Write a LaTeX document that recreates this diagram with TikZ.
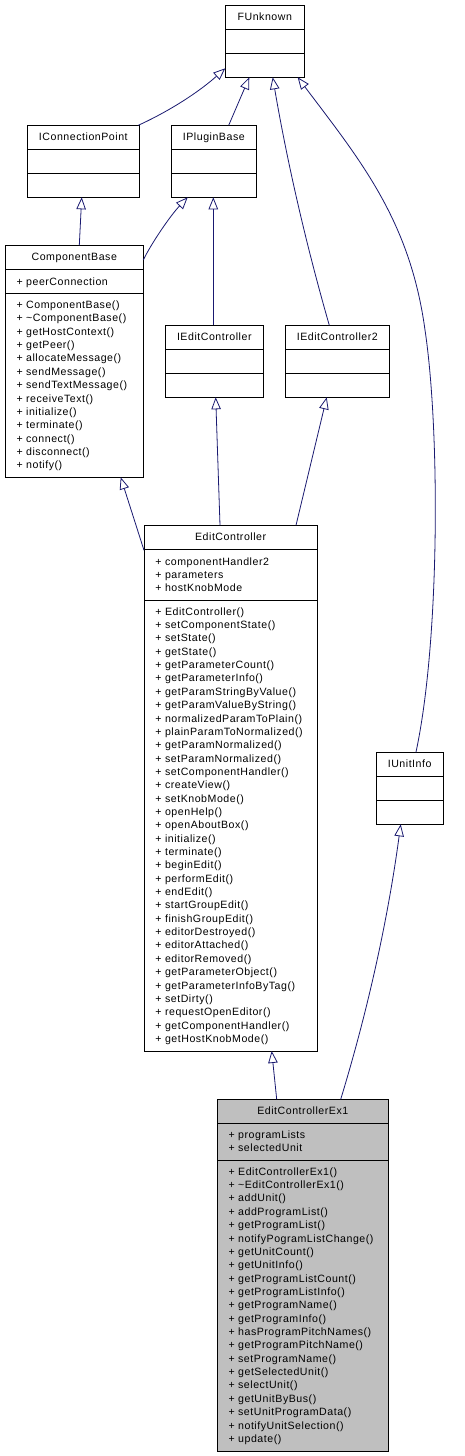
\documentclass[tikz,border=0pt]{standalone}
\usepackage{fontspec}
\setmainfont{Liberation Sans}[LetterSpace=5]
\usetikzlibrary{arrows.meta}
\definecolor{edgeblue}{HTML}{191970}
\definecolor{boxgray}{HTML}{BFBFBF}
\tikzset{
  classbox/.style={draw=black, line width=0.9pt, inner sep=0pt, outer sep=0pt, rectangle},
  sepline/.style={draw=black, line width=0.9pt},
  titletext/.style={anchor=base, inner sep=0pt, font=\fontsize{10.6}{12}\selectfont},
  member/.style={anchor=base west, inner sep=0pt, font=\fontsize{10.6}{12}\selectfont},
  inh/.style={draw=edgeblue, line width=0.8pt, -{Triangle[length=12pt, width=9.5pt, fill=white]}}
}
% #1 name, #2 left, #3 top, #4 width, #5 height, #6 sep1, #7 sep2, #8 fill, #9 title
\newcommand\umlclass[9]{%
  \node[classbox, fill=#8, minimum width=#4pt, minimum height=#5pt, anchor=north west] (#1) at (#2,#3) {};
  \draw[sepline] ([yshift=-#6pt]#1.north west) -- ([yshift=-#6pt]#1.north east);
  \draw[sepline] ([yshift=-#7pt]#1.north west) -- ([yshift=-#7pt]#1.north east);
  \node[titletext] (#1-title) at ([yshift=-15.5pt]#1.north) {#9};
}
\begin{document}
\begin{tikzpicture}[x=1pt, y=-1pt]
\path[use as bounding box, fill=white] (0,0) rectangle (464,1456);

% classes
\umlclass{fu}{225.3}{5.3}{79}{72}{24}{48}{white}{FUnknown}
\umlclass{icp}{27.3}{125.3}{112}{72}{24}{48}{white}{IConnectionPoint}
\umlclass{ipb}{171.3}{125.3}{85}{72}{24}{48}{white}{IPluginBase}
\umlclass{cb}{5.3}{245.3}{138}{232}{24}{48}{white}{ComponentBase}
\umlclass{iec}{165.3}{325.3}{98}{72}{24}{48}{white}{IEditController}
\umlclass{iec2}{285.3}{325.3}{104}{72}{24}{48}{white}{IEditController2}
\umlclass{ec}{144}{525.3}{173.3}{525.7}{24}{75}{white}{EditController}
\umlclass{iu}{376}{752.3}{67.3}{72}{24}{48}{white}{IUnitInfo}
\umlclass{ecx}{217.3}{1099.3}{171}{351.7}{24}{61}{boxgray}{EditControllerEx1}

% ComponentBase members
\node[member] (cba0) at (16.3,285) {+ peerConnection};
\foreach \t [count=\i from 0] in {ComponentBase(), \textasciitilde ComponentBase(), getHostContext(), getPeer(), allocateMessage(), sendMessage(), sendTextMessage(), receiveText(), initialize(), terminate(), connect(), disconnect(), notify()}
  \node[member] (cbm\i) at (16.3,{308.5+\i*13.36}) {+ \t};

% EditController members
\foreach \t [count=\i from 0] in {componentHandler2, parameters, hostKnobMode}
  \node[member] (eca\i) at (155.2,{565+\i*13.35}) {+ \t};
\foreach \t [count=\i from 0] in {EditController(), setComponentState(), setState(), getState(), getParameterCount(), getParameterInfo(), getParamStringByValue(), getParamValueByString(), normalizedParamToPlain(), plainParamToNormalized(), getParamNormalized(), setParamNormalized(), setComponentHandler(), createView(), setKnobMode(), openHelp(), openAboutBox(), initialize(), terminate(), beginEdit(), performEdit(), endEdit(), startGroupEdit(), finishGroupEdit(), editorDestroyed(), editorAttached(), editorRemoved(), getParameterObject(), getParameterInfoByTag(), setDirty(), requestOpenEditor(), getComponentHandler(), getHostKnobMode()}
  \node[member] (ecm\i) at (155.2,{615.2+\i*13.35}) {+ \t};

% EditControllerEx1 members
\foreach \t [count=\i from 0] in {programLists, selectedUnit}
  \node[member] (ecxa\i) at (228.3,{1138.5+\i*13.35}) {+ \t};
\foreach \t [count=\i from 0] in {EditControllerEx1(), \textasciitilde EditControllerEx1(), addUnit(), addProgramList(), getProgramList(), notifyPogramListChange(), getUnitCount(), getUnitInfo(), getProgramListCount(), getProgramListInfo(), getProgramName(), getProgramInfo(), hasProgramPitchNames(), getProgramPitchName(), setProgramName(), getSelectedUnit(), selectUnit(), getUnitByBus(), setUnitProgramData(), notifyUnitSelection(), update()}
  \node[member] (ecxm\i) at (228.3,{1175.2+\i*13.36}) {+ \t};

% inheritance connectors
\draw[inh] ([xshift=-1pt]icp.north east) .. controls (170.2,110.7) and (199.2,91.7) .. ([yshift=9pt]fu.south west);
\draw[inh] ([xshift=57.4pt]ipb.north west) -- ([xshift=24pt]fu.south west);
\draw[inh] ([xshift=44pt]iec2.north west) .. controls (305.8,243.6) and (287,161) .. ([xshift=47.4pt]fu.south west);
\coordinate (iuvia) at (425,330);
\draw[inh] ([xshift=6.3pt]iu.north) .. controls (440,640) and (440,430) .. (iuvia)
  .. controls (410,220) and (360,160) .. ([xshift=-6.6pt]fu.south east);
\draw[inh] ([xshift=74pt]cb.north west) -- ([xshift=54.4pt]icp.south west);
\draw[inh] ([yshift=-14.7pt]cb.north east) .. controls (151,244) and (170,216) .. ([xshift=16.4pt]ipb.south west);
\draw[inh] ([xshift=48pt]iec.north west) -- ([xshift=42pt]ipb.south west);
\draw[inh] ([yshift=-25pt]ec.north west) -- ([xshift=115.4pt]cb.south west);
\draw[inh] ([xshift=76pt]ec.north west) -- ([xshift=50.4pt]iec.south west);
\draw[inh] ([xshift=152pt]ec.north west) -- ([xshift=41.4pt]iec2.south west);
\draw[inh] ([xshift=59.4pt]ecx.north west) -- ([xshift=127.7pt]ec.south west);
\draw[inh] ([xshift=123.4pt]ecx.north west) .. controls (368.2,1009.2) and (388.2,917.6) .. ([xshift=24.7pt]iu.south west);
\end{tikzpicture}
\end{document}
